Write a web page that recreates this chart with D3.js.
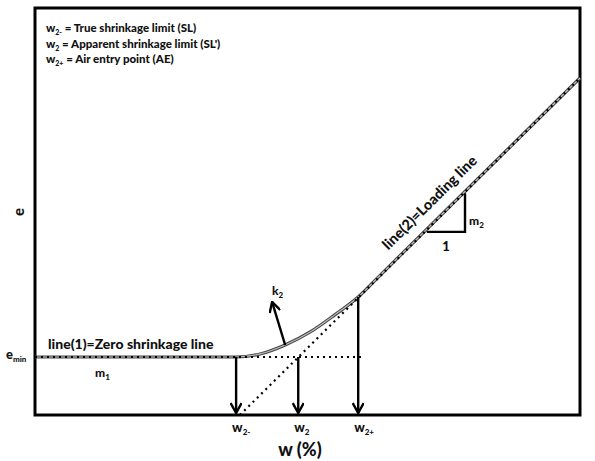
<!DOCTYPE html>
<html>
<head>
<meta charset="utf-8">
<script src="https://cdn.jsdelivr.net/npm/d3@7"></script>
<style>
  body { margin: 0; background: #fff; }
  svg text { font-family: Lato, "Open Sans", sans-serif; font-weight: 900; fill: #111; }
</style>
</head>
<body>
<svg id="chart" width="595" height="461"></svg>
<script>
// values (abstract units, w and e both 0..100)
var eMin = 14.25;
var shrinkCurve = [[0, 14.25], [36.9, 14.25], [41.3, 15.0], [45.9, 17.2], [50.5, 20.4], [55.0, 24.6], [59.3, 29.0], [63.0, 33.9], [100, 82.8]];
var loadingLine = [[37.6, 0], [100, 82.8]];
var zeroLineEnd = 60.2;
var wValues = [36.9, 48.3, 59.3];
var wTops = [14.25, 14.25, 29.0];
var wSubs = ["2-", "2", "2+"];
var k2Arrow = [[45.9, 17.2], [43.5, 27.8]];
var slopeTriangle = [[71.9, 45.0], [78.9, 45.0], [78.9, 54.5]];
var legendLines = [
  ["2-", " = True shrinkage limit (SL)"],
  ["2", " =  Apparent shrinkage limit (SL')"],
  ["2+", " = Air entry point (AE)"]
];

var svg = d3.select("#chart");
var x = d3.scaleLinear().domain([0, 100]).range([35, 580]);
var y = d3.scaleLinear().domain([0, 100]).range([415, 8]);

// frame
svg.append("rect")
  .attr("x", x(0)).attr("y", y(100))
  .attr("width", x(100) - x(0)).attr("height", y(0) - y(100))
  .attr("fill", "none").attr("stroke", "#000").attr("stroke-width", 3);

var line = d3.line().x(function(d){ return x(d[0]); }).y(function(d){ return y(d[1]); });

// shrinkage curve (grey with dark edge)
svg.append("path").datum(shrinkCurve)
  .attr("d", line.curve(d3.curveMonotoneX))
  .attr("fill", "none").attr("stroke", "#444").attr("stroke-width", 3.2);
svg.append("path").datum(shrinkCurve)
  .attr("d", line.curve(d3.curveMonotoneX))
  .attr("fill", "none").attr("stroke", "#bbb").attr("stroke-width", 1.2);

line.curve(d3.curveLinear);

// dotted lines
svg.append("path").datum([[0, eMin], [zeroLineEnd, eMin]])
  .attr("d", line)
  .attr("fill", "none").attr("stroke", "#000").attr("stroke-width", 2.2)
  .attr("stroke-dasharray", "2,4");
svg.append("path").datum(loadingLine)
  .attr("d", line)
  .attr("fill", "none").attr("stroke", "#000").attr("stroke-width", 2.2)
  .attr("stroke-dasharray", "2,4");

// arrow heads
svg.append("defs").append("marker")
  .attr("id", "head")
  .attr("viewBox", "0 0 12 12")
  .attr("refX", 11).attr("refY", 6)
  .attr("markerWidth", 12).attr("markerHeight", 12)
  .attr("markerUnits", "userSpaceOnUse")
  .attr("orient", "auto")
  .append("path")
  .attr("d", "M1,0.5 L11,6 L1,11.5")
  .attr("fill", "none").attr("stroke", "#000").attr("stroke-width", 2.4);

// vertical arrows down to the w axis
svg.selectAll(".warrow").data(wValues).enter().append("line")
  .attr("class", "warrow")
  .attr("x1", function(d){ return x(d); })
  .attr("x2", function(d){ return x(d); })
  .attr("y1", function(d, i){ return y(wTops[i]); })
  .attr("y2", y(0) - 2)
  .attr("stroke", "#000").attr("stroke-width", 2.4)
  .attr("marker-end", "url(#head)");

// w labels
var wl = svg.selectAll(".wlab").data(wValues).enter().append("text")
  .attr("class", "wlab")
  .attr("x", function(d){ return x(d) - 4; })
  .attr("y", 432)
  .style("font-size", "13px");
wl.append("tspan").text("w");
wl.append("tspan").attr("dy", 3).style("font-size", "8px").text(function(d, i){ return wSubs[i]; });

// k2 arrow
svg.append("path").datum(k2Arrow)
  .attr("d", line)
  .attr("stroke", "#000").attr("stroke-width", 2.4)
  .attr("marker-end", "url(#head)");
var k2 = svg.append("text").attr("x", 272).attr("y", 295).style("font-size", "12px");
k2.append("tspan").text("k");
k2.append("tspan").attr("dy", 3).style("font-size", "8px").text("2");

// slope triangle
svg.append("path").datum(slopeTriangle)
  .attr("d", line)
  .attr("fill", "none").attr("stroke", "#000").attr("stroke-width", 2.4);
var m2 = svg.append("text").attr("x", x(slopeTriangle[1][0]) + 4).attr("y", 225).style("font-size", "12px");
m2.append("tspan").text("m");
m2.append("tspan").attr("dy", 3).style("font-size", "8px").text("2");
svg.append("text").attr("x", (x(slopeTriangle[0][0]) + x(slopeTriangle[1][0])) / 2).attr("y", 251)
  .attr("text-anchor", "middle").style("font-size", "13px").text("1");

// loading line label
var ang = Math.atan2(y(loadingLine[1][1]) - y(loadingLine[0][1]), x(loadingLine[1][0]) - x(loadingLine[0][0])) * 180 / Math.PI;
svg.append("text")
  .attr("transform", "translate(431,204) rotate(" + ang + ")")
  .attr("text-anchor", "middle").attr("dy", 3)
  .style("font-size", "14.5px")
  .text("line(2)=Loading line");

// zero shrinkage label, m1, emin
svg.append("text").attr("x", 48).attr("y", 349).style("font-size", "14px").text("line(1)=Zero shrinkage line");
var m1 = svg.append("text").attr("x", 95).attr("y", 377).style("font-size", "12px");
m1.append("tspan").text("m");
m1.append("tspan").attr("dy", 3).style("font-size", "8px").text("1");
var em = svg.append("text").attr("x", 6).attr("y", 359).style("font-size", "13px");
em.append("tspan").text("e");
em.append("tspan").attr("dy", 3).style("font-size", "8px").text("min");

// axis titles
svg.append("text").attr("x", 300).attr("y", 456).attr("text-anchor", "middle")
  .style("font-size", "18px").text("w (%)");
svg.append("text").attr("transform", "translate(24,212) rotate(-90)")
  .attr("text-anchor", "middle").style("font-size", "15px").text("e");

// legend
var lg = svg.selectAll(".leg").data(legendLines).enter().append("text")
  .attr("class", "leg")
  .attr("x", 46)
  .attr("y", function(d, i){ return 32 + i * 15.5; })
  .style("font-size", "11.5px");
lg.append("tspan").text("w");
lg.append("tspan").attr("dy", 3).style("font-size", "7px").text(function(d){ return d[0]; });
lg.append("tspan").attr("dy", -3).text(function(d){ return d[1]; });
</script>
</body>
</html>
